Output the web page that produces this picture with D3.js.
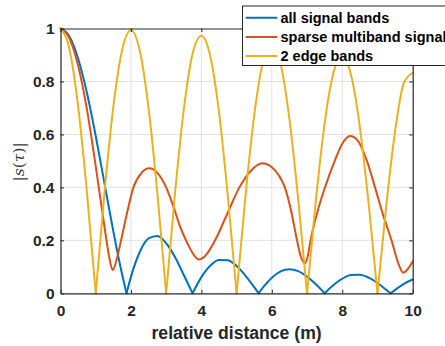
<!DOCTYPE html>
<html>
<head>
<meta charset="utf-8">
<script src="https://cdn.jsdelivr.net/npm/d3@7"></script>
<style>
  html, body { margin: 0; padding: 0; background: #fff; overflow: hidden; }
  svg { display: block; }
  text { font-family: "Liberation Sans", Arial, Helvetica, sans-serif; }
</style>
</head>
<body>
<svg id="chart" width="445" height="346"></svg>
<script>
// ---- data ----------------------------------------------------------------
// all signal bands: |s(tau)| over relative distance (m)
const allX = [0, 0.25, 0.5, 0.75, 1.0, 1.25, 1.5, 1.75, 1.875, 2.0, 2.25, 2.5, 2.75, 3.0, 3.25, 3.5, 3.75,
  4.0, 4.25, 4.5, 4.75, 5.0, 5.25, 5.5, 5.625, 5.75, 6.0, 6.25, 6.5, 6.75, 7.0, 7.25, 7.5,
  7.75, 8.0, 8.25, 8.5, 8.75, 9.0, 9.25, 9.375, 9.5, 9.75, 10];
const allY = [1, 0.971, 0.887, 0.757, 0.594, 0.414, 0.234, 0.071, 0, 0.062, 0.156, 0.207, 0.216, 0.189, 0.137, 0.069, 0,
  0.061, 0.104, 0.126, 0.125, 0.103, 0.067, 0.023, 0, 0.022, 0.059, 0.083, 0.091, 0.084, 0.063, 0.034, 0,
  0.031, 0.055, 0.069, 0.070, 0.059, 0.039, 0.013, 0, 0.013, 0.036, 0.052];

// sparse multiband signal
const sparseX = [0, 0.25, 0.5, 0.75, 1.0, 1.25, 1.4, 1.48, 1.6, 1.72, 1.9, 2.07, 2.3, 2.52, 2.75, 3.0, 3.2, 3.39,
  3.6, 3.8, 3.93, 4.1, 4.39, 4.7, 5.08, 5.4, 5.73, 6.0, 6.2, 6.37, 6.55, 6.7, 6.82, 6.94, 7.02, 7.1,
  7.3, 7.51, 7.8, 8.0, 8.22, 8.45, 8.7, 8.93, 9.15, 9.4, 9.6, 9.73, 9.85, 10];
const sparseY = [1, 0.964, 0.86, 0.695, 0.48, 0.25, 0.125, 0.088, 0.13, 0.2, 0.31, 0.4, 0.455, 0.472, 0.455, 0.4, 0.33, 0.254,
  0.19, 0.142, 0.128, 0.14, 0.2, 0.29, 0.4, 0.462, 0.491, 0.476, 0.445, 0.4, 0.31, 0.21, 0.14, 0.113, 0.14, 0.2,
  0.31, 0.4, 0.505, 0.565, 0.594, 0.575, 0.5, 0.4, 0.3, 0.2, 0.11, 0.078, 0.09, 0.12];

// 2 edge bands
const edgeX = [0, 0.25, 0.5, 0.75, 1, 1.25, 1.5, 1.75, 2, 2.25, 2.5, 2.75, 3, 3.25, 3.5, 3.75, 4, 4.25, 4.5, 4.75,
  5, 5.25, 5.5, 5.75, 6, 6.25, 6.5, 6.75, 7, 7.25, 7.5, 7.75, 8, 8.25, 8.5, 8.75, 9, 9.25, 9.5, 9.75, 10];
const edgeY = [1, 0.924, 0.707, 0.382, 0, 0.382, 0.704, 0.919, 0.993, 0.917, 0.700, 0.378, 0, 0.376, 0.694, 0.905, 0.973, 0.897, 0.684, 0.368,
  0, 0.365, 0.672, 0.874, 0.940, 0.866, 0.658, 0.354, 0, 0.350, 0.643, 0.833, 0.896, 0.824, 0.627, 0.337, 0, 0.332, 0.612, 0.795, 0.832];

const seriesNames = ["all signal bands", "sparse multiband signal", "2 edge bands"];
const seriesColors = ["#0072BD", "#D95319", "#EDB120"];

const xTicks = [0, 2, 4, 6, 8, 10];
const yTicks = [0, 0.2, 0.4, 0.6, 0.8, 1];
const xLabel = "relative distance (m)";

// ---- layout --------------------------------------------------------------
const svg = d3.select("#chart");
const plot = { left: 60.5, right: 412.7, top: 28.5, bottom: 293.3 };
const ink = "#262626";

const x = d3.scaleLinear().domain([0, 10]).range([plot.left, plot.right]);
const y = d3.scaleLinear().domain([0, 1]).range([plot.bottom, plot.top]);

// grid
const grid = svg.append("g").attr("stroke", "#e1e1e1").attr("stroke-width", 1);
xTicks.slice(1, -1).forEach(v => grid.append("line")
  .attr("x1", x(v)).attr("x2", x(v)).attr("y1", plot.top).attr("y2", plot.bottom));
yTicks.slice(1, -1).forEach(v => grid.append("line")
  .attr("x1", plot.left).attr("x2", plot.right).attr("y1", y(v)).attr("y2", y(v)));

// ---- curves --------------------------------------------------------------
// split a series at its exact zeros so each lobe is drawn as its own smooth arc
function lobes(xs, ys) {
  const pts = xs.map((v, i) => [v, ys[i]]);
  const out = [];
  let cur = [];
  pts.forEach((p, i) => {
    cur.push(p);
    if (p[1] === 0 && i > 0 && i < pts.length - 1) { out.push(cur); cur = [p]; }
  });
  if (cur.length > 1) out.push(cur);
  return out;
}

const line = d3.line().x(d => x(d[0])).y(d => y(d[1])).curve(d3.curveMonotoneX);

const curves = svg.append("g").attr("fill", "none").attr("stroke-width", 2)
  .attr("stroke-linejoin", "round").attr("stroke-linecap", "round");

[[allX, allY], [sparseX, sparseY], [edgeX, edgeY]].forEach(([xs, ys], i) => {
  lobes(xs, ys).forEach(seg => curves.append("path")
    .attr("d", line(seg)).attr("stroke", seriesColors[i]));
});

// ---- axes ----------------------------------------------------------------
const tickLen = 3.5;
const fmt = d => d3.format("~g")(d);

const axB = svg.append("g").attr("transform", `translate(0,${plot.bottom})`)
  .call(d3.axisBottom(x).tickValues(xTicks).tickFormat(fmt).tickSizeInner(-tickLen).tickSizeOuter(0).tickPadding(12));
const axL = svg.append("g").attr("transform", `translate(${plot.left},0)`)
  .call(d3.axisLeft(y).tickValues(yTicks).tickFormat(fmt).tickSizeInner(-tickLen).tickSizeOuter(0).tickPadding(6));
const axT = svg.append("g").attr("transform", `translate(0,${plot.top})`)
  .call(d3.axisTop(x).tickValues(xTicks).tickFormat("").tickSizeInner(-tickLen).tickSizeOuter(0));
const axR = svg.append("g").attr("transform", `translate(${plot.right},0)`)
  .call(d3.axisRight(y).tickValues(yTicks).tickFormat("").tickSizeInner(-tickLen).tickSizeOuter(0));

[axB, axL, axT, axR].forEach(g => {
  g.selectAll("path.domain").attr("stroke", ink).attr("stroke-width", 1.2);
  g.selectAll(".tick line").attr("stroke", ink).attr("stroke-width", 1);
  g.selectAll(".tick text").attr("fill", ink)
    .style("font-size", "15.5px").style("font-weight", "bold")
    .style("font-family", '"Liberation Sans", Arial, sans-serif');
});

// axis labels
svg.append("text")
  .attr("x", (plot.left + plot.right) / 2).attr("y", 338.5)
  .attr("text-anchor", "middle").attr("fill", ink)
  .style("font-size", "17.6px").style("font-weight", "bold")
  .text(xLabel);

const yl = svg.append("text")
  .attr("transform", `translate(24,${(plot.top + plot.bottom) / 2 + 1}) rotate(-90)`)
  .attr("text-anchor", "middle").attr("fill", "#3a3a3a")
  .style("font-family", '"DejaVu Serif", "Liberation Serif", serif')
  .style("font-size", "15.5px");
yl.append("tspan").text("|");
yl.append("tspan").style("font-style", "italic").text("s");
yl.append("tspan").text("(");
yl.append("tspan").style("font-style", "italic").text("τ");
yl.append("tspan").text(")|");

// ---- legend --------------------------------------------------------------
const leg = svg.append("g");
leg.append("rect")
  .attr("x", 242.5).attr("y", 6).attr("width", 230).attr("height", 59.5)
  .attr("fill", "#fff").attr("stroke", ink).attr("stroke-width", 1);
const rowY = [17.7, 37, 56];
seriesNames.forEach((name, i) => {
  leg.append("line")
    .attr("x1", 245.7).attr("x2", 277.3).attr("y1", rowY[i]).attr("y2", rowY[i])
    .attr("stroke", seriesColors[i]).attr("stroke-width", 2);
  leg.append("text")
    .attr("x", 280.5).attr("y", rowY[i] + 5.2)
    .attr("fill", "#000")
    .style("font-size", "14.5px").style("font-weight", "bold")
    .text(name);
});
</script>
</body>
</html>
